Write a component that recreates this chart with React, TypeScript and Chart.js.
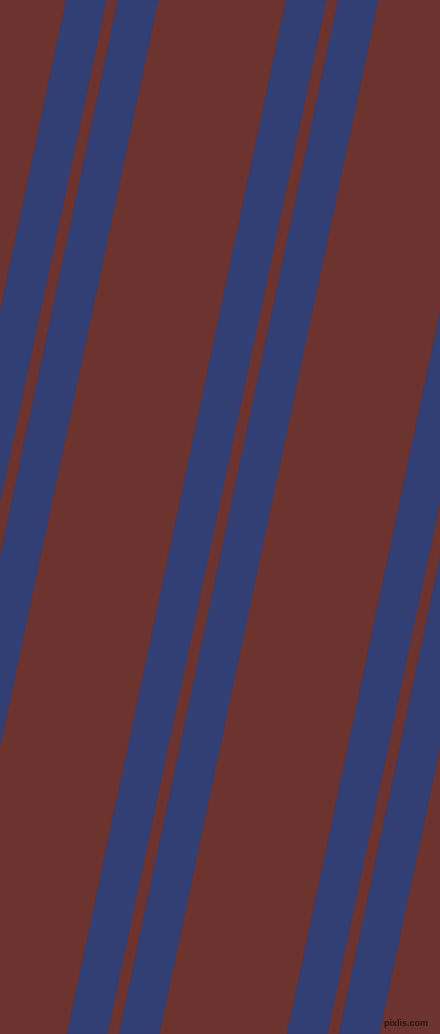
import { useEffect, useRef } from "react";
import { Chart, ChartConfiguration, registerables } from "chart.js";

Chart.register(...registerables);

const WIDTH = 440;
const HEIGHT = 1034;

// left edge of each stripe where it meets the top and the bottom of the picture
const stripeTopLeft = [-154, -102, 66, 118, 286, 338, 506, 558];
const stripeBottomLeft = [-373, -321, -153, -101, 67, 119, 287, 339];
const stripeWidth = 40;

const brown = "#6c332f";
const blue = "#313f74";

export default function App() {
  const canvasRef = useRef<HTMLCanvasElement>(null);
  const chartRef = useRef<Chart | null>(null);

  useEffect(() => {
    document.body.style.margin = "0";
    if (!canvasRef.current) return;
    const ctx = canvasRef.current.getContext("2d");
    if (!ctx) return;

    if (chartRef.current) {
      chartRef.current.destroy();
    }

    const datasets = stripeTopLeft.map((top, i) => {
      const bottom = stripeBottomLeft[i];
      return {
        label: `stripe ${i + 1}`,
        data: [
          { x: top, y: 0 },
          { x: top + stripeWidth, y: 0 },
          { x: bottom + stripeWidth, y: HEIGHT },
          { x: bottom, y: HEIGHT },
          { x: top, y: 0 }
        ],
        showLine: true,
        fill: "shape",
        backgroundColor: blue,
        borderColor: blue,
        borderWidth: 0.5,
        pointRadius: 0,
        tension: 0
      };
    });

    const config: ChartConfiguration = {
      type: "scatter",
      data: { datasets: datasets as any },
      options: {
        responsive: false,
        animation: false,
        layout: { padding: 0 },
        plugins: {
          legend: { display: false },
          tooltip: { enabled: false }
        },
        scales: {
          x: { type: "linear", min: 0, max: WIDTH, display: false },
          y: { type: "linear", min: 0, max: HEIGHT, reverse: true, display: false }
        }
      }
    };

    chartRef.current = new Chart(ctx, config);

    return () => {
      if (chartRef.current) {
        chartRef.current.destroy();
        chartRef.current = null;
      }
    };
  }, []);

  return (
    <div style={{ position: "relative", width: WIDTH, height: HEIGHT, background: brown, overflow: "hidden" }}>
      <canvas ref={canvasRef} width={WIDTH} height={HEIGHT} style={{ display: "block" }}></canvas>
      <span
        style={{
          position: "absolute",
          right: 12,
          bottom: 6,
          fontFamily: "'Liberation Sans', sans-serif",
          fontSize: 9,
          fontWeight: "bold",
          color: "#2a1412",
          lineHeight: 1
        }}
      >
        pixlis.com
      </span>
    </div>
  );
}
